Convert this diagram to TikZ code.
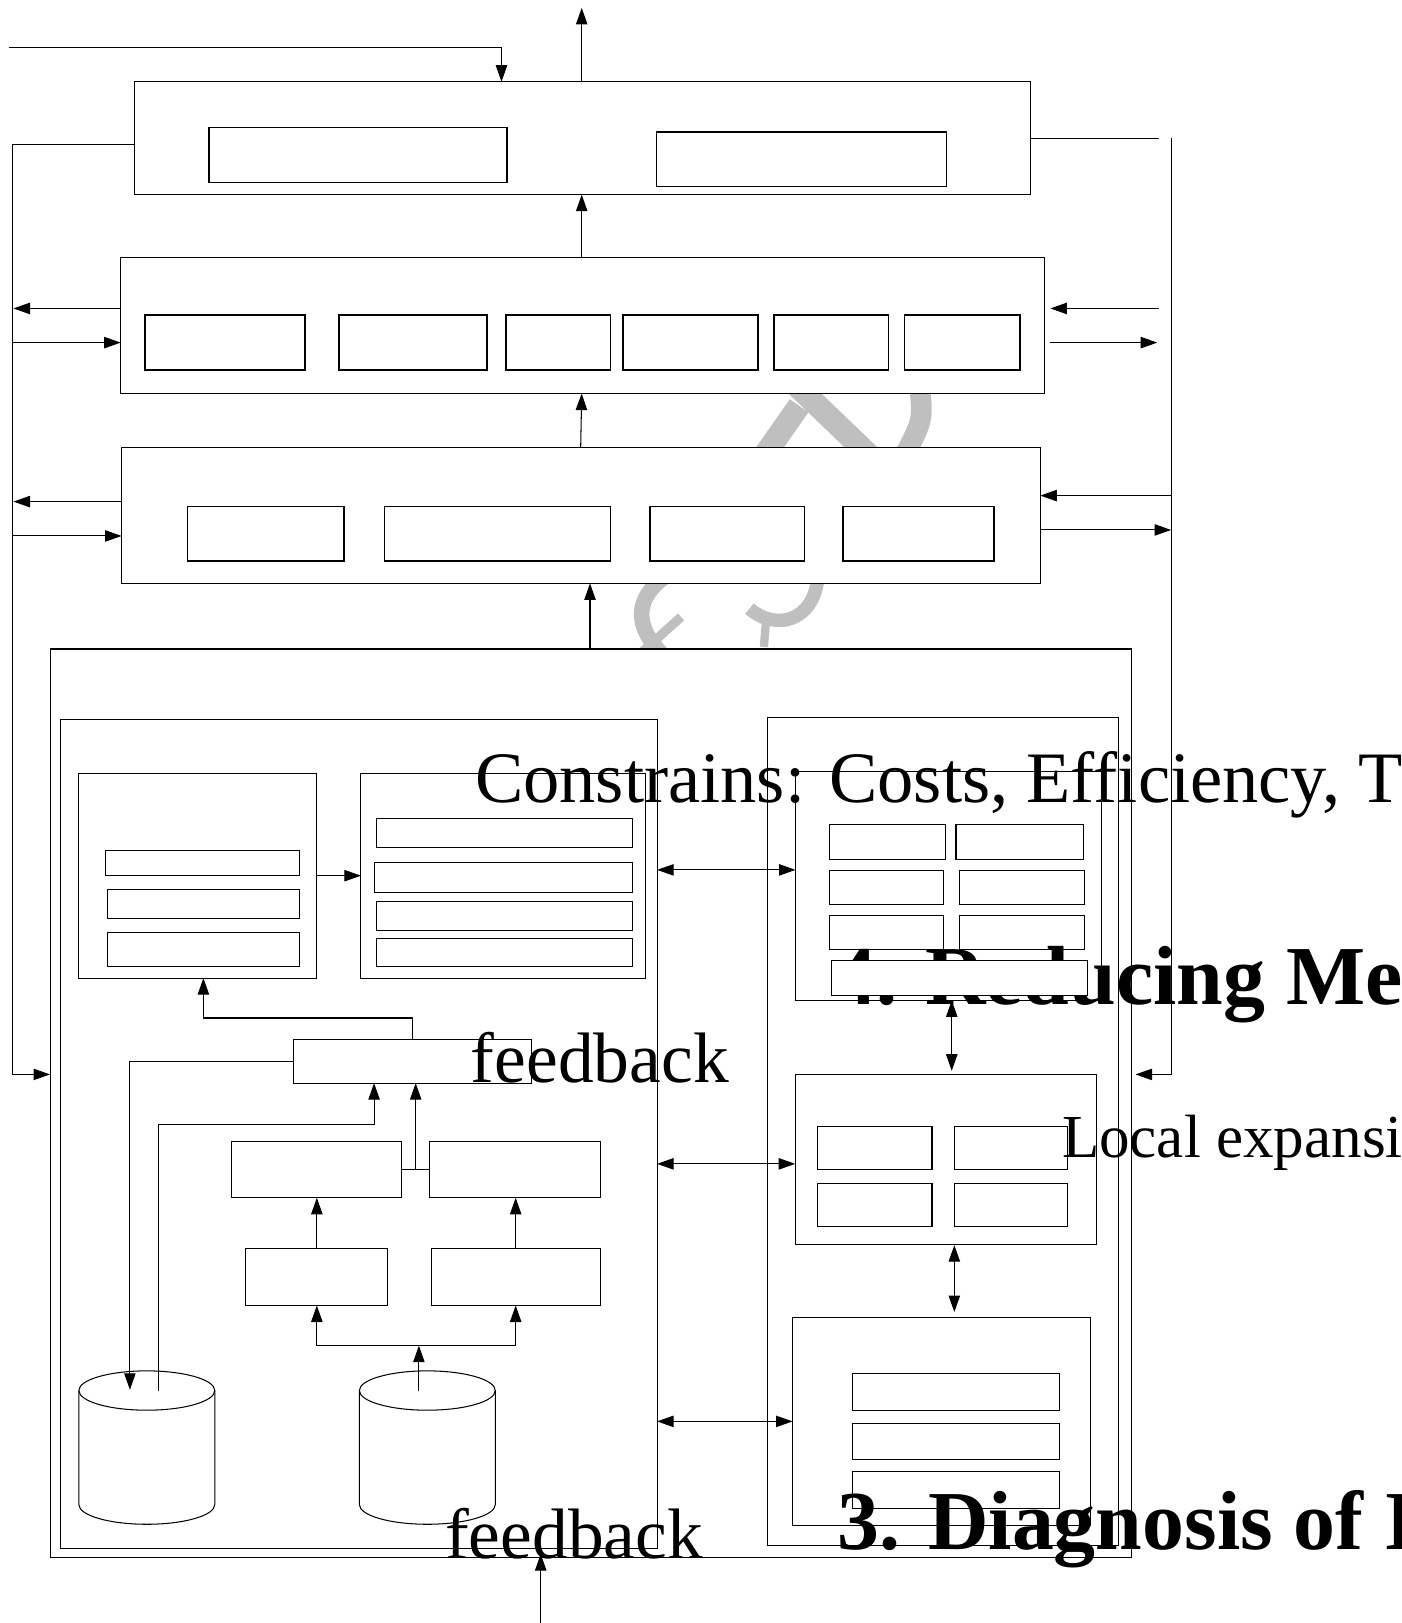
\documentclass[tikz,border=0pt]{standalone}
\usepackage{fontspec}
\setmainfont{Liberation Serif}
\usetikzlibrary{arrows.meta}
\tikzset{
  box/.style={draw, line width=1pt, fill=white, inner sep=0pt, outer sep=0pt},
  cell/.style={box, line width=1.4pt},
  sub/.style={box, line width=1pt},
  ln/.style={line width=1pt},
  arr/.style={ln, -{Triangle[length=16pt,width=11pt]}},
  darr/.style={ln, {Triangle[length=16pt,width=11pt]}-{Triangle[length=16pt,width=11pt]}},
  lbl/.style={inner sep=0pt, outer sep=0pt, anchor=base west},
  wm/.style={draw=black!25, line cap=butt},
}
\newcommand\mybox[6][box]{\node[#1, minimum width={(#5-#3)*1pt}, minimum height={(#6-#4)*1pt}] (#2) at ({(#3+#5)/2},{(#4+#6)/2}) {};}
\begin{document}
\begin{tikzpicture}[x=1pt,y=-1pt]
\useasboundingbox (0,0) rectangle (1354,1568);
% ---- faint watermark fragments (mostly hidden by the boxes)
\draw[wm, line width=22pt] (735,445) -- (772,392);
\draw[wm, line width=22pt] (765,368) -- (840,440);
\draw[wm, line width=20pt] (888,370) .. controls (892,405) .. (874,440);
\draw[wm, line width=15pt] (645,555) .. controls (610,580) and (612,608) .. (648,640);
\draw[wm, line width=9pt] (618,632) -- (658,596);
\draw[wm, line width=13pt] (790,560) .. controls (785,600) and (750,610) .. (724,588);
\draw[wm, line width=8pt] (740,600) -- (738,625);
% ---- top layers
\mybox{b1}{129.5}{79}{995.5}{188}
\mybox[cell]{b1a}{202}{123.4}{489.6}{176.2}
\mybox[cell]{b1b}{634}{127.6}{914.5}{180}
\mybox{b2}{116.6}{248.8}{1008.8}{380.2}
\mybox[cell]{b2a}{139.9}{304.5}{294.5}{357.3}
\mybox[cell]{b2b}{327.3}{304.5}{470.7}{357.3}
\mybox[cell]{b2c}{488.8}{304.5}{589.9}{357.3}
\mybox[cell]{b2d}{601.9}{304.5}{732.4}{357.3}
\mybox[cell]{b2e}{747.9}{304.5}{858.4}{357.3}
\mybox[cell]{b2f}{874}{304.5}{985.4}{357.3}
\mybox{b3}{117.5}{432.2}{1005}{563.6}
\mybox[cell]{b3a}{181.3}{489.5}{332.5}{541.9}
\mybox[cell]{b3b}{371.3}{489.5}{589.8}{541.9}
\mybox[cell]{b3c}{627.8}{489.5}{777.2}{541.9}
\mybox[cell]{b3d}{814.4}{489.5}{960.4}{541.9}
% ---- bottom block
\mybox{outer}{48.4}{627}{1093.3}{1504.5}
\mybox{L}{58.7}{695}{634.8}{1495.8}
\mybox{R}{741.9}{693.2}{1080.5}{1493.2}
\mybox{D}{76.2}{747.4}{306}{944.9}
\mybox[sub]{D1}{101.8}{821.8}{289.6}{846}
\mybox[sub]{D2}{103.8}{859.8}{289.6}{887.5}
\mybox[sub]{D3}{103.8}{901}{289.6}{933.9}
\mybox{E}{348.7}{747.4}{623.7}{944.9}
\mybox[sub]{E1}{363.7}{790.9}{611}{818.6}
\mybox[sub]{E2}{361.5}{832.8}{611}{862.4}
\mybox[sub]{E3}{363.7}{871.1}{611}{898.5}
\mybox[sub]{E4}{363.7}{906.5}{611}{933.9}
\mybox{F}{283.2}{1004.5}{513.2}{1046.4}
\mybox{G}{223.6}{1102.4}{388.1}{1157.2}
\mybox{H}{415.4}{1102.4}{579.9}{1157.2}
\mybox{nI}{237.1}{1206.5}{374.3}{1261.2}
\mybox{nJ}{417}{1206.5}{579.9}{1261.2}
% cylinders
\draw[ln, fill=white] (76.2,1343.4) -- (76.2,1453.6) arc[start angle=180,end angle=360,x radius=65.65pt,y radius=19pt] -- (207.5,1343.4);
\draw[ln, fill=white] (141.85,1343.4) ellipse [x radius=65.65pt, y radius=19pt];
\draw[ln, fill=white] (347.2,1343.4) -- (347.2,1453.6) arc[start angle=180,end angle=360,x radius=65.65pt,y radius=19pt] -- (478.5,1343.4);
\draw[ln, fill=white] (412.85,1343.4) ellipse [x radius=65.65pt, y radius=19pt];
% right column
\mybox{A}{768.6}{745.8}{1064}{966.5}
\mybox[sub]{A1}{801.8}{796.7}{913.3}{829.9}
\mybox[sub]{A2}{923.6}{796.7}{1046.7}{829.9}
\mybox[sub]{A3}{801.8}{840.8}{911.2}{873.7}
\mybox[sub]{A4}{927.1}{840.8}{1048}{873.7}
\mybox[sub]{A5}{801.8}{884.6}{911.2}{917.5}
\mybox[sub]{A6}{927.1}{884.6}{1048}{917.5}
\node[lbl, font=\fontsize{81}{97}\selectfont\bfseries] (t4) at (806,970) {4. Reducing Met};
\mybox[sub]{A7}{803.1}{927.8}{1050.2}{961.3}
\mybox{B}{768.3}{1038}{1059}{1201.9}
\mybox[sub]{B1}{790.2}{1088.7}{900.4}{1129.6}
\mybox[sub]{B2}{921.7}{1088.7}{1031.5}{1129.6}
\mybox[sub]{B3}{790.2}{1143.8}{900.4}{1184.6}
\mybox[sub]{B4}{921.7}{1143.8}{1031.5}{1184.6}
\mybox{C}{765.7}{1272.6}{1053.7}{1473.8}
\mybox[sub]{C1}{823.4}{1327.2}{1023.2}{1362.7}
\mybox[sub]{C2}{823.4}{1374.8}{1023.2}{1410.4}
\mybox[sub]{C3}{823.4}{1421.4}{1023.2}{1457}
% ---- connectors, top
\coordinate (inTL) at (8.6,45.8);
\coordinate (t1) at (484.5,45.8);
\draw[arr] (inTL) -- (t1) -- (t1 |- b1.north);
\coordinate (outTop) at (562,7.6);
\draw[arr] (outTop |- b1.north) -- (outTop);
\draw[arr] (outTop |- b2.north) -- (outTop |- b1.south);
\coordinate (x561) at (561,0);
\draw[arr] (x561 |- b3.north) -- (outTop |- b2.south);
\coordinate (x570) at (570,0);
\draw[arr] (x570 |- outer.north) -- (x570 |- b3.south);
% left loop
\coordinate (ll1) at (12,139.5);
\coordinate (ll2) at (12,1038);
\draw[arr] (ll1 -| b1.west) -- (ll1) -- (ll2) -- (ll2 -| outer.west);
% right loop
\coordinate (rr0) at (1120,133.7);
\draw[ln] (rr0 -| b1.east) -- (rr0);
\coordinate (rr1) at (1131.4,133.7);
\coordinate (rr2) at (1131.4,1038);
\draw[arr, shorten >=3.7pt] (rr1) -- (rr2) -- (rr2 -| outer.east);
% b2 side arrows
\coordinate (l298) at (13,298);
\coordinate (l331) at (13,331);
\draw[arr] (l298 -| b2.west) -- (l298);
\draw[arr] (l331) -- (l331 -| b2.west);
\coordinate (r298) at (1120,298);
\coordinate (r331) at (1118,331);
\draw[arr, shorten >=6pt] (r298) -- (r298 -| b2.east);
\draw[arr, shorten <=6pt] (r331 -| b2.east) -- (r331);
% b3 side arrows
\coordinate (l485) at (13,484.6);
\coordinate (l518) at (13,517.8);
\draw[arr] (l485 -| b3.west) -- (l485);
\draw[arr] (l518) -- (l518 -| b3.west);
\coordinate (r479) at (1131.4,478.8);
\coordinate (r512) at (1131.4,512);
\draw[arr] (r479) -- (r479 -| b3.east);
\draw[arr] (r512 -| b3.east) -- (r512);
% ---- left inner connectors
\coordinate (y846) at (0,846);
\draw[arr] (D.east |- y846) -- (E.west |- y846);
\coordinate (fd1) at (398.9,983.5);
\coordinate (fd2) at (196.5,983.5);
\draw[arr] (fd1 |- F.north) -- (fd1) -- (fd2) -- (fd2 |- D.south);
\coordinate (fc1) at (125.5,1025.1);
\coordinate (cyl1in) at (125.5,1342.7);
\draw[arr] (fc1 -| F.west) -- (fc1) -- (cyl1in);
\coordinate (c1out) at (153.1,1343.4);
\coordinate (cf1) at (153.1,1086);
\coordinate (cf2) at (361.4,1086);
\draw[arr] (c1out) -- (cf1) -- (cf2) -- (cf2 |- F.south);
\coordinate (gh) at (401.6,1129.8);
\draw[ln] (G.east |- gh) -- (H.west |- gh);
\draw[arr] (gh) -- (gh |- F.south);
\coordinate (xi) at (306.1,1300);
\coordinate (xj) at (498.2,1300);
\draw[arr] (xi |- nI.north) -- (xi |- G.south);
\draw[arr] (xj |- nJ.north) -- (xj |- H.south);
\coordinate (c2out) at (404.7,1343.4);
\draw[arr] (c2out) -- (c2out |- xi);
\draw[ln] (xi) -- (xj);
\draw[arr] (xi) -- (xi |- nI.south);
\draw[arr] (xj) -- (xj |- nJ.south);
% ---- left-right double arrows
\coordinate (y840) at (0,840.4);
\coordinate (y1124) at (0,1124.4);
\coordinate (y1373) at (0,1373.2);
\draw[darr] (L.east |- y840) -- (A.west |- y840);
\draw[darr] (L.east |- y1124) -- (B.west |- y1124);
\draw[darr] (L.east |- y1373) -- (C.west |- y1373);
\coordinate (x919) at (919.5,0);
\coordinate (x922) at (922,0);
\draw[darr, shorten >=3.5pt] (x919 |- A.south) -- (x919 |- B.north);
\draw[darr, shorten >=5pt, shorten <=1pt] (x922 |- B.south) -- (x922 |- C.north);
% bottom input
\coordinate (fb) at (522.4,1568);
\draw[arr, shorten >=-3.2pt] (fb) -- (fb |- outer.south);
% ---- texts
\node[lbl, font=\fontsize{70}{84}\selectfont] (cons) at (459,775) {Constrains: Costs, Efficiency, T};
\node[lbl, font=\fontsize{69}{83}\selectfont] (fb1) at (455,1045.4) {feedback};
\node[lbl, font=\fontsize{69}{83}\selectfont] (fb2) at (430,1506) {feedback};
\node[lbl, font=\fontsize{59}{71}\selectfont] (loc) at (1026,1118) {Local expansio};
\node[lbl, font=\fontsize{81}{97}\selectfont\bfseries] (t3) at (809,1496.5) {3. Diagnosis of I};
\end{tikzpicture}
\end{document}
